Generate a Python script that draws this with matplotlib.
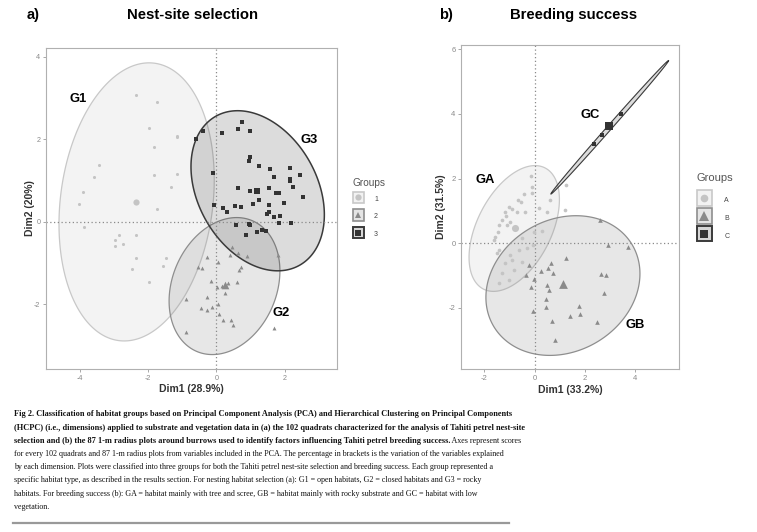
import numpy as np
import matplotlib
matplotlib.use("Agg")
import matplotlib.pyplot as plt
from matplotlib.colors import to_rgba
from matplotlib.patches import Rectangle
from matplotlib.lines import Line2D
from matplotlib.legend_handler import HandlerBase

# ---------------- data : panel a (nest-site selection) ----------------
nest_groups = ["1", "2", "3"]
nest_labels = ["G1", "G2", "G3"]
g1_x = [-2.35, -1.72, -1.97, -1.16, -1.14, -1.82, -3.43, -3.57, -1.82, -1.16, -1.33, -3.89, -4.01,
        -1.74, -3.86, -2.85, -2.96, -2.72, -2.96, -2.35, -2.35, -1.48, -1.56, -2.47, -1.96]
g1_y = [3.07, 2.91, 2.27, 2.08, 2.06, 1.82, 1.37, 1.09, 1.12, 1.16, 0.83, 0.72, 0.44,
        0.32, -0.12, -0.32, -0.44, -0.53, -0.59, -0.33, -0.87, -0.88, -1.07, -1.14, -1.45]
g2_x = [0.45, -0.28, 0.06, 0.40, 0.64, 0.91, 1.79, 0.67, 0.71, -0.53, -0.43, -0.15, 0.16, 0.35, 0.60,
        0.01, 0.25, -0.28, -0.89, 0.06, -0.13, -0.45, -0.26, 0.08, 0.20, 0.43, 0.50, -0.89, 1.70]
g2_y = [-0.62, -0.85, -0.97, -0.81, -0.77, -0.83, -0.81, -1.17, -1.09, -1.09, -1.13, -1.43, -1.56, -1.49, -1.45,
        -1.58, -1.74, -1.82, -1.88, -2.00, -2.06, -2.10, -2.14, -2.24, -2.38, -2.38, -2.50, -2.67, -2.58]
g3_x = [0.74, -0.60, -0.39, 0.16, 0.64, 0.98, 1.00, 0.96, 1.26, 1.57, 2.15, 2.45, 2.17, 2.17, 1.69,
        -0.11, 0.63, 1.00, 1.53, 2.23, 1.76, 1.82, 2.54, 1.26, 1.06, 1.98, 1.55, -0.06, 0.55, 0.71,
        0.19, 0.30, 1.47, 1.55, 1.86, 1.69, 0.58, 0.96, 1.00, 1.84, 2.19, 1.18, 1.35, 1.45, 0.87]
g3_y = [2.42, 2.01, 2.21, 2.15, 2.24, 2.20, 1.58, 1.48, 1.35, 1.28, 1.30, 1.12, 1.03, 0.98, 1.09,
        1.19, 0.82, 0.74, 0.82, 0.85, 0.69, 0.69, 0.61, 0.53, 0.44, 0.46, 0.40, 0.41, 0.38, 0.36,
        0.33, 0.23, 0.19, 0.23, 0.15, 0.11, -0.07, -0.06, -0.09, -0.04, -0.04, -0.25, -0.20, -0.23, -0.33]
nest_cent_x = [-2.35, 0.25, 1.18]
nest_cent_y = [0.48, -1.53, 0.75]
# ellipse summaries: centre, half extent in x / y, correlation
nest_ell_cx = [-2.33, 0.24, 1.21]
nest_ell_cy = [0.48, -1.56, 0.75]
nest_ell_sx = [2.27, 1.62, 1.95]
nest_ell_sy = [3.37, 1.66, 1.94]
nest_ell_rho = [0.16, 0.22, -0.30]
nest_dim1 = "Dim1 (28.9%)"
nest_dim2 = "Dim2 (20%)"
nest_xticks = [-4, -2, 0, 2]
nest_yticks = [-2, 0, 2, 4]

# ---------------- data : panel b (breeding success) ----------------
breed_groups = ["A", "B", "C"]
breed_labels = ["GA", "GB", "GC"]
ga_x = [-0.13, -0.11, -0.44, -0.11, -0.66, -0.54, 0.61, -1.03, -0.90, -0.70,
        -0.37, 0.49, -1.19, -1.14, -1.30, -0.97, -1.41, -1.10, -1.46, -1.57,
        -1.63, -0.04, -0.50, -0.07, -1.43, -1.50, -0.97, -0.64, -0.31, -0.90,
        -1.19, -0.50, -1.30, -0.83, -1.43, -1.03, 1.23, 1.22, 0.29, 0.15]
ga_y = [2.08, 1.75, 1.52, 1.55, 1.34, 1.26, 1.34, 1.13, 1.05, 0.95,
        0.95, 0.98, 0.98, 0.85, 0.72, 0.67, 0.57, 0.57, 0.36, 0.20,
        0.10, 0.36, 0.15, -0.05, -0.21, -0.31, -0.36, -0.21, -0.15, -0.52,
        -0.62, -0.57, -0.93, -0.83, -1.22, -1.14, 1.79, 1.03, 0.39, 1.08]
gb_x = [2.60, 2.93, 3.70, 1.25, 0.64, -0.21, -0.34, 0.25, 0.54, 0.72, 2.65, 2.83, -0.15,
        0.48, 0.57, 2.75, 0.44, 0.45, 1.74, 1.40, 1.81, -0.05, 0.68, 2.49, 0.81, -0.03]
gb_y = [0.72, -0.06, -0.12, -0.46, -0.62, -0.67, -0.98, -0.85, -0.76, -0.93, -0.96, -0.99, -1.36,
        -1.29, -1.44, -1.55, -1.73, -1.96, -1.94, -2.25, -2.18, -2.11, -2.42, -2.44, -2.99, -1.11]
gc_x = [2.37, 2.66, 3.42]
gc_y = [3.06, 3.35, 3.99]
breed_cent_x = [-0.80, 1.11, 2.97]
breed_cent_y = [0.46, -1.26, 3.61]
breed_ell_cx = [-0.815, 1.12, 2.98]
breed_ell_cy = [0.455, -1.31, 3.585]
breed_ell_sx = [1.795, 3.06, 2.34]
breed_ell_sy = [1.945, 2.16, 2.065]
breed_ell_rho = [0.46, 0.17, 0.9987]
breed_dim1 = "Dim1 (33.2%)"
breed_dim2 = "Dim2 (31.5%)"
breed_xticks = [-2, 0, 2, 4]
breed_yticks = [-2, 0, 2, 4, 6]

caption_lines = [
    [("Fig 2. Classification of habitat groups based on Principal Component Analysis (PCA) and Hierarchical Clustering on Principal Components", True)],
    [("(HCPC) (i.e., dimensions) applied to substrate and vegetation data in (a) the 102 quadrats characterized for the analysis of Tahiti petrel nest-site", True)],
    [("selection and (b) the 87 1-m radius plots around burrows used to identify factors influencing Tahiti petrel breeding success.", True),
     (" Axes represent scores", False)],
    [("for every 102 quadrats and 87 1-m radius plots from variables included in the PCA. The percentage in brackets is the variation of the variables explained", False)],
    [("by each dimension. Plots were classified into three groups for both the Tahiti petrel nest-site selection and breeding success. Each group represented a", False)],
    [("specific habitat type, as described in the results section. For nesting habitat selection (a): G1 = open habitats, G2 = closed habitats and G3 = rocky", False)],
    [("habitats. For breeding success (b): GA = habitat mainly with tree and scree, GB = habitat mainly with rocky substrate and GC = habitat with low", False)],
    [("vegetation.", False)],
]

# ---------------- style ----------------
W, H = 757, 532
plt.rcParams['font.family'] = ['Liberation Sans', 'DejaVu Sans']
plt.rcParams['axes.unicode_minus'] = False
group_cols = ['#c4c4c4', '#8a8a8a', '#333333']
fill_alpha = [0.2, 0.2, 0.17]
edge_cols = ['#c8c8c8', '#8e8e8e', '#3a3a3a']
edge_lw = [0.9, 0.9, 1.1]
markers = ['o', '^', 's']

fig = plt.figure(figsize=(W / 100, H / 100), dpi=100)


def fx(px):
    return px / W


def fy(py):
    return 1 - py / H


def ellipse_xy(cx, cy, sx, sy, rho, n=600):
    t = np.linspace(0, 2 * np.pi, n)
    x = cx + sx * np.cos(t)
    y = cy + sy * (rho * np.cos(t) + np.sqrt(1 - rho ** 2) * np.sin(t))
    return x, y


def panel(rect, xs, ys, cx_, cy_, ecx, ecy, esx, esy, erho, xlim, ylim, xticks, yticks,
          xlabel, ylabel, msizes, csizes, tfs, ylpad, lws):
    ax = fig.add_axes(rect)
    for i in range(3):
        ex, ey = ellipse_xy(ecx[i], ecy[i], esx[i], esy[i], erho[i])
        ax.fill(ex, ey, facecolor=to_rgba(group_cols[i], fill_alpha[i]), edgecolor=edge_cols[i],
                lw=lws[i], zorder=1 + i * 0.1)
    ax.axhline(0, color='#8a8a8a', lw=0.9, ls=(0, (1, 2)), zorder=2)
    ax.axvline(0, color='#8a8a8a', lw=0.9, ls=(0, (1, 2)), zorder=2)
    for i in range(3):
        ax.scatter(xs[i], ys[i], s=msizes[i], marker=markers[i], color=group_cols[i],
                   linewidths=0, zorder=3)
        ax.scatter([cx_[i]], [cy_[i]], s=csizes[i], marker=markers[i], color=group_cols[i],
                   linewidths=0, zorder=3)
    ax.set_xlim(*xlim)
    ax.set_ylim(*ylim)
    ax.set_xticks(xticks)
    ax.set_yticks(yticks)
    ax.tick_params(length=2, width=0.6, color='#9a9a9a', labelcolor='#8a8a8a',
                   labelsize=tfs, pad=2)
    for s in ax.spines.values():
        s.set_color('#b0b0b0')
        s.set_linewidth(0.8)
    ax.set_xlabel(xlabel, fontsize=7.5, fontweight='bold', color='#333333', labelpad=2)
    ax.set_ylabel(ylabel, fontsize=7.5, fontweight='bold', color='#333333', labelpad=ylpad)
    return ax


# panel a
axa = panel([fx(46), fy(369), fx(337) - fx(46), fy(48) - fy(369)],
            [g1_x, g2_x, g3_x], [g1_y, g2_y, g3_y], nest_cent_x, nest_cent_y,
            nest_ell_cx, nest_ell_cy, nest_ell_sx, nest_ell_sy, nest_ell_rho,
            (-4.98, 3.53), (-3.57, 4.21), nest_xticks, nest_yticks, nest_dim1, nest_dim2,
            [5, 8, 5], [20, 30, 22], 5.2, -1, edge_lw)
for lab, x, y in zip(nest_labels, [-4.04, 1.90, 2.71], [2.97, -2.21, 1.98]):
    axa.text(x, y, lab, fontsize=9.4, fontweight='bold', ha='center', va='center', zorder=5)

# panel b
axb = panel([fx(461), fy(369.3), fx(678.7) - fx(461), fy(45) - fy(369.3)],
            [ga_x, gb_x, gc_x], [ga_y, gb_y, gc_y], breed_cent_x, breed_cent_y,
            breed_ell_cx, breed_ell_cy, breed_ell_sx, breed_ell_sy, breed_ell_rho,
            (-2.93, 5.72), (-3.90, 6.13), breed_xticks, breed_yticks, breed_dim1, breed_dim2,
            [7, 11, 7], [26, 40, 34], 5.5, 2, [0.9, 0.9, 0.8])
for lab, x, y in zip(breed_labels, [-1.98, 3.98, 2.20], [1.96, -2.53, 3.97]):
    axb.text(x, y, lab, fontsize=9.4, fontweight='bold', ha='center', va='center', zorder=5)

# titles
fig.text(fx(33.5), fy(15), "a)", fontsize=10.5, fontweight='bold', ha='center', va='center')
fig.text(fx(192.5), fy(15), "Nest-site selection", fontsize=10.7, fontweight='bold', ha='center', va='center')
fig.text(fx(445.5), fy(15), "b)", fontsize=10.5, fontweight='bold', ha='center', va='center')
fig.text(fx(573.5), fy(15), "Breeding success", fontsize=10.7, fontweight='bold', ha='center', va='center')


# legends
class Key:
    def __init__(self, i, ms, side):
        self.i, self.ms, self.side = i, ms, side


class KeyHandler(HandlerBase):
    def create_artists(self, legend, h, xdescent, ydescent, width, height, fontsize, trans):
        i = h.i
        cxk = width / 2 - xdescent
        cyk = (height - ydescent) / 2
        side = h.side
        rect = Rectangle((cxk - side / 2, cyk - side / 2), side, side,
                         facecolor=to_rgba(group_cols[i], 0.22 if i < 2 else 0.2),
                         edgecolor=edge_cols[i], linewidth=edge_lw[i] + 0.3, transform=trans)
        mk = Line2D([cxk], [cyk], marker=markers[i], color=group_cols[i], ls='',
                    markersize=h.ms[i], markeredgewidth=0, transform=trans)
        return [rect, mk]


def make_legend(groups, anchor, fs, hl, ls, htp, ms, side, title_xy, tfs):
    handles = [Key(i, ms, side) for i in range(3)]
    leg = fig.legend(handles, groups, loc='upper left', bbox_to_anchor=anchor, frameon=False,
                     borderpad=0, borderaxespad=0,
                     handlelength=hl, handleheight=hl, labelspacing=ls, handletextpad=htp,
                     fontsize=fs, handler_map={Key: KeyHandler()})
    for t in leg.get_texts():
        t.set_color('#444444')
    fig.text(fx(title_xy[0]), fy(title_xy[1]), "Groups", fontsize=tfs, color='#555555',
             ha='left', va='center')
    return leg


make_legend(nest_groups, (fx(352.7), fy(194.0)), 5, 1.67, 1.2, 1.4, [4.5, 5, 4.5], 8.3,
            (352.7, 183.3), 7.3)
make_legend(breed_groups, (fx(696.7), fy(194.0)), 5, 2.2, 0.9, 1.8, [5.5, 6.5, 5.5], 11.1,
            (696.7, 177.7), 8)

# caption
renderer = fig.canvas.get_renderer()


def width_at(txt, bold, size):
    t = fig.text(0, 0, txt, fontsize=size, family='Liberation Serif',
                 fontweight='bold' if bold else 'normal')
    w = t.get_window_extent(renderer).width
    t.remove()
    return w


size_bold = 10 * 490 / width_at(caption_lines[0][0][0], True, 10)
size_norm = 10 * 490 / width_at(caption_lines[3][0][0], False, 10)
line_y = [413.3, 426.5, 439.7, 452.9, 466.1, 479.3, 492.5, 505.7]
for ly, segs in zip(line_y, caption_lines):
    x = 14.0
    for txt, bold in segs:
        sz = size_bold if bold else size_norm
        t = fig.text(fx(x), fy(ly), txt, fontsize=sz, family='Liberation Serif',
                     fontweight='bold' if bold else 'normal', ha='left', va='center_baseline',
                     color='#111111')
        x += t.get_window_extent(renderer).width
fig.add_artist(Line2D([fx(13), fx(509)], [fy(522.7), fy(522.7)], color='#999999', lw=1.6))

fig.savefig("out.png", dpi=100)
